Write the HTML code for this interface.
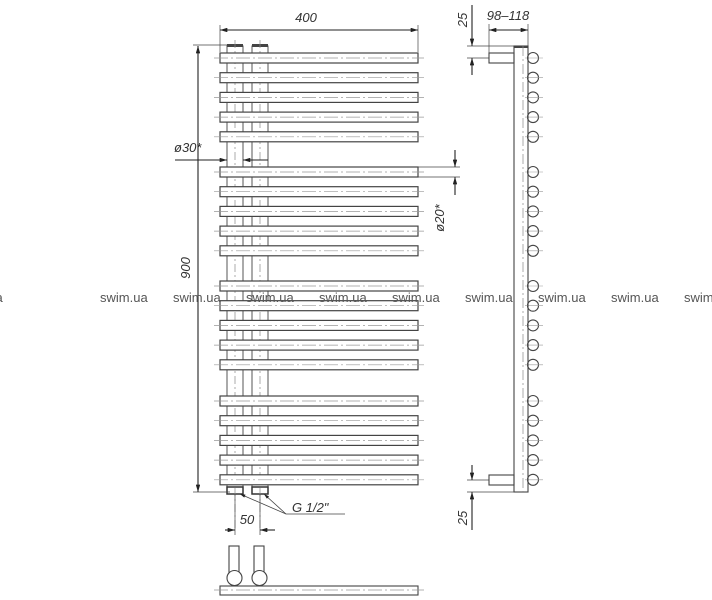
<!DOCTYPE html>
<html><head><meta charset="utf-8"><style>
body{margin:0;background:#fff;width:712px;height:600px;overflow:hidden}
svg{display:block}
text{font-family:"Liberation Sans",sans-serif}
.d{font-style:italic;font-size:13px;fill:#333}
.w{font-size:13px;fill:#555}
</style></head><body>
<svg width="712" height="600" viewBox="0 0 712 600" xmlns="http://www.w3.org/2000/svg">
<defs>
<marker id="a" viewBox="0 0 10 6" refX="10" refY="3" markerWidth="10" markerHeight="4" orient="auto-start-reverse"><path d="M0,0L10,3L0,6z" fill="#222"/></marker>
</defs>
<script>
(function(){
var ns="http://www.w3.org/2000/svg",svg=document.querySelector('svg');
function el(t,a,p){var e=document.createElementNS(ns,t);for(var k in a)e.setAttribute(k,a[k]);(p||svg).appendChild(e);return e;}
var ys=[];[58,172,286,401].forEach(function(s){for(var i=0;i<5;i++)ys.push(s+i*19.7);});
[[227,243],[252,268]].forEach(function(p){
 el('rect',{x:p[0],y:46,width:p[1]-p[0],height:442,fill:'none',stroke:'#555','stroke-width':1});
 el('rect',{x:p[0],y:44,width:p[1]-p[0],height:3,fill:'#444'});
 el('rect',{x:p[0],y:487,width:p[1]-p[0],height:7,fill:'#fff',stroke:'#333','stroke-width':1.5});
 el('line',{x1:(p[0]+p[1])/2,y1:40,x2:(p[0]+p[1])/2,y2:530,stroke:'#888','stroke-width':0.7,'stroke-dasharray':'8 3 2 3'});
});
ys.forEach(function(y){
 el('rect',{x:220,y:y-5,width:198,height:10,fill:'#fff',stroke:'#444','stroke-width':1.2});
 el('line',{x1:214,y1:y,x2:424,y2:y,stroke:'#999','stroke-width':0.7,'stroke-dasharray':'14 3 2 3'});
 el('circle',{cx:533,cy:y,r:5.5,fill:'#fff',stroke:'#444','stroke-width':1.1});
 el('line',{x1:525,y1:y,x2:543,y2:y,stroke:'#999','stroke-width':0.6});
});
})();
</script>
<g stroke="#444" fill="none" stroke-width="1.1">
<rect x="514" y="46" width="14" height="446"/>
<line x1="514" y1="47" x2="528" y2="47" stroke-width="2"/>
<line x1="523" y1="46" x2="523" y2="492" stroke="#888" stroke-width="0.7" stroke-dasharray="10 3 2 3"/>
<rect x="489" y="53" width="25" height="10"/>
<rect x="489" y="475" width="25" height="10"/>
<line x1="220" y1="30" x2="418" y2="30" stroke="#222" marker-start="url(#a)" marker-end="url(#a)"/>
<line x1="220" y1="25" x2="220" y2="52" stroke-width="0.7"/>
<line x1="418" y1="25" x2="418" y2="52" stroke-width="0.7"/>
<line x1="489" y1="30" x2="528" y2="30" stroke="#222" marker-start="url(#a)" marker-end="url(#a)"/>
<line x1="489" y1="24" x2="489" y2="53" stroke-width="0.7"/>
<line x1="528" y1="24" x2="528" y2="46" stroke-width="0.7"/>
<line x1="472" y1="5" x2="472" y2="46" stroke="#222" marker-end="url(#a)"/>
<line x1="472" y1="75" x2="472" y2="58" stroke="#222" marker-end="url(#a)"/>
<line x1="467" y1="46" x2="514" y2="46" stroke-width="0.7"/>
<line x1="467" y1="58" x2="489" y2="58" stroke-width="0.7"/>
<line x1="472" y1="465" x2="472" y2="480" stroke="#222" marker-end="url(#a)"/>
<line x1="472" y1="530" x2="472" y2="492" stroke="#222" marker-end="url(#a)"/>
<line x1="467" y1="480" x2="489" y2="480" stroke-width="0.7"/>
<line x1="467" y1="492" x2="514" y2="492" stroke-width="0.7"/>
<line x1="198" y1="46" x2="198" y2="492" stroke="#222" marker-start="url(#a)" marker-end="url(#a)"/>
<line x1="193" y1="45" x2="230" y2="45" stroke-width="0.7"/>
<line x1="193" y1="492" x2="230" y2="492" stroke-width="0.7"/>
<line x1="175" y1="160" x2="227" y2="160" stroke="#222" marker-end="url(#a)"/>
<line x1="268" y1="160" x2="243" y2="160" stroke="#222" marker-end="url(#a)"/>
<line x1="455" y1="150" x2="455" y2="167" stroke="#222" marker-end="url(#a)"/>
<line x1="455" y1="195" x2="455" y2="177" stroke="#222" marker-end="url(#a)"/>
<line x1="418" y1="167" x2="460" y2="167" stroke-width="0.7"/>
<line x1="418" y1="177" x2="460" y2="177" stroke-width="0.7"/>
<line x1="225" y1="530" x2="235" y2="530" stroke="#222" marker-end="url(#a)"/>
<line x1="275" y1="530" x2="260" y2="530" stroke="#222" marker-end="url(#a)"/>
<line x1="235" y1="494" x2="235" y2="535" stroke-width="0.7"/>
<line x1="260" y1="494" x2="260" y2="535" stroke-width="0.7"/>
<polyline points="345,514 286,514 240,494" stroke-width="0.8" marker-end="url(#a)"/>
<line x1="286" y1="514" x2="264" y2="494" stroke-width="0.8" marker-end="url(#a)"/>
<rect x="229" y="546" width="10" height="30"/>
<rect x="254" y="546" width="10" height="30"/>
<circle cx="234.5" cy="578" r="7.5" fill="#fff"/>
<circle cx="259.5" cy="578" r="7.5" fill="#fff"/>
<rect x="220" y="586" width="198" height="9"/>
<line x1="214" y1="590" x2="424" y2="590" stroke="#999" stroke-width="0.7" stroke-dasharray="14 3 2 3"/>
</g>
<text class="d" x="306" y="22" text-anchor="middle">400</text>
<text class="d" x="508" y="20" text-anchor="middle">98–118</text>
<text class="d" x="174" y="152">ø30*</text>
<text class="d" x="292" y="512">G 1/2"</text>
<text class="d" x="247" y="524" text-anchor="middle">50</text>
<text class="d" transform="translate(190 268) rotate(-90)" text-anchor="middle">900</text>
<text class="d" transform="translate(444 218) rotate(-90)" text-anchor="middle">ø20*</text>
<text class="d" transform="translate(467 20) rotate(-90)" text-anchor="middle">25</text>
<text class="d" transform="translate(467 518) rotate(-90)" text-anchor="middle">25</text>
<g class="w">
<text x="-45" y="302">swim.ua</text><text x="100" y="302">swim.ua</text><text x="173" y="302">swim.ua</text>
<text x="246" y="302">swim.ua</text><text x="319" y="302">swim.ua</text><text x="392" y="302">swim.ua</text>
<text x="465" y="302">swim.ua</text><text x="538" y="302">swim.ua</text><text x="611" y="302">swim.ua</text>
<text x="684" y="302">swim.ua</text>
</g>
</svg>
</body></html>
